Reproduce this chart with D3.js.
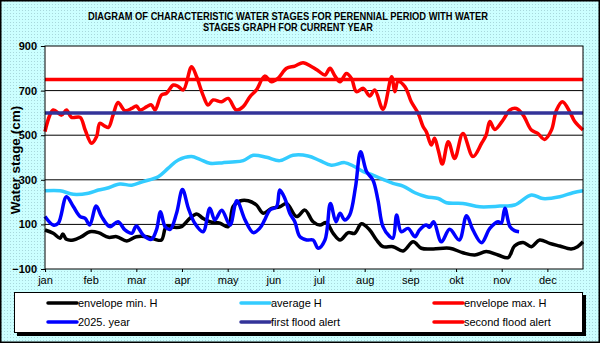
<!DOCTYPE html>
<html>
<head>
<meta charset="utf-8">
<script src="https://cdn.jsdelivr.net/npm/d3@7"></script>
<style>
  body { margin: 0; padding: 0; background: #fff; }
  svg { display: block; font-family: "Liberation Sans", Arial, sans-serif; }
</style>
</head>
<body>
<script>
// month labels, x values below are in months from 1 jan
var months = ["jan","feb","mar","apr","may","jun","jul","aug","sep","okt","nov","dec"];
var yTicks = [-100, 100, 300, 500, 700, 900];

var firstAlert = 600;
var secondAlert = 750;

var envelopeMax = [[0,516],[0.18,613],[0.36,590],[0.47,613],[0.58,580],[0.77,580],[0.88,523],[1.02,464],[1.13,494],
  [1.2,553],[1.31,541],[1.39,535],[1.49,590],[1.6,647],[1.75,610],[1.9,620],[2.0,631],[2.08,613],[2.23,628],
  [2.33,636],[2.41,613],[2.55,680],[2.66,688],[2.81,725],[2.92,718],[3.03,703],[3.21,807],[3.32,762],[3.46,680],
  [3.57,635],[3.68,658],[3.87,650],[4.01,665],[4.19,613],[4.34,628],[4.49,673],[4.63,703],[4.81,765],[4.96,740],
  [5.1,755],[5.29,800],[5.47,810],[5.65,825],[5.84,807],[5.98,789],[6.13,770],[6.24,800],[6.35,765],[6.46,740],
  [6.6,777],[6.71,755],[6.82,695],[6.97,710],[7.11,676],[7.22,703],[7.4,616],[7.59,762],[7.66,695],[7.73,740],
  [7.88,718],[8.02,650],[8.17,598],[8.28,538],[8.35,515],[8.46,456],[8.53,486],[8.61,434],[8.7,371],[8.83,471],
  [8.97,396],[9.15,508],[9.37,404],[9.56,464],[9.66,501],[9.74,561],[9.85,526],[10.03,568],[10.18,613],[10.32,620],
  [10.47,590],[10.65,523],[10.79,508],[10.94,481],[11.09,523],[11.2,613],[11.33,650],[11.49,605],[11.6,561],[11.78,523]];

var averageH = [[0,251],[0.33,251],[0.62,235],[0.95,240],[1.17,254],[1.35,262],[1.64,281],[1.9,276],[2.15,292],
  [2.48,314],[2.7,352],[2.92,389],[3.21,404],[3.39,392],[3.61,374],[3.9,377],[4.1,380],[4.34,386],[4.56,410],
  [4.85,401],[5.14,386],[5.43,410],[5.76,407],[6.02,386],[6.27,365],[6.56,377],[6.75,362],[6.97,337],[7.18,321],
  [7.4,302],[7.62,284],[7.84,272],[8.1,242],[8.35,224],[8.61,216],[8.79,197],[9.15,194],[9.52,179],[9.96,182],
  [10.28,187],[10.65,232],[10.9,216],[11.27,224],[11.56,242],[11.78,251]];

var envelopeMin = [[0,75],[0.18,60],[0.33,38],[0.39,57],[0.47,33],[0.62,30],[0.8,45],[0.98,67],[1.17,63],[1.39,42],
  [1.57,45],[1.79,26],[2.0,45],[2.23,45],[2.41,33],[2.55,30],[2.66,93],[2.81,87],[2.99,90],[3.17,127],[3.32,147],
  [3.46,127],[3.61,112],[3.83,105],[4.01,90],[4.12,180],[4.27,205],[4.45,206],[4.63,187],[4.78,150],[4.96,172],
  [5.14,179],[5.29,194],[5.51,135],[5.69,164],[5.87,112],[6.02,97],[6.16,108],[6.31,60],[6.46,30],[6.64,63],
  [6.78,60],[6.93,103],[7.11,75],[7.26,30],[7.4,0],[7.62,0],[7.84,-19],[8.06,22],[8.24,-7],[8.5,-10],[8.86,-7],
  [9.15,-27],[9.41,-37],[9.66,-22],[9.92,-37],[10.14,-49],[10.28,3],[10.47,19],[10.65,0],[10.83,30],[11.05,15],
  [11.27,3],[11.52,-10],[11.66,0],[11.78,22]];

var year2025 = [[0,135],[0.18,97],[0.29,105],[0.47,224],[0.62,180],[0.77,135],[0.88,127],[0.98,97],[1.12,183],
  [1.24,135],[1.42,90],[1.6,112],[1.75,75],[1.9,60],[2.0,93],[2.15,52],[2.33,33],[2.44,75],[2.53,157],[2.63,90],
  [2.74,78],[2.88,150],[3.01,257],[3.14,172],[3.28,105],[3.46,67],[3.61,172],[3.72,120],[3.87,164],[4.05,97],
  [4.2,206],[4.38,120],[4.56,63],[4.7,82],[4.81,120],[4.92,164],[5.07,179],[5.14,254],[5.25,217],[5.36,150],
  [5.47,112],[5.58,45],[5.73,30],[5.87,30],[5.98,-7],[6.13,30],[6.25,194],[6.37,112],[6.46,150],[6.56,120],
  [6.67,142],[6.8,269],[6.91,426],[7.04,337],[7.18,299],[7.29,209],[7.4,90],[7.55,45],[7.62,38],[7.7,142],
  [7.8,67],[7.95,82],[8.1,45],[8.2,75],[8.35,97],[8.42,87],[8.51,112],[8.68,22],[8.86,78],[9.07,30],[9.23,139],
  [9.37,75],[9.56,18],[9.74,82],[9.92,112],[9.99,105],[10.07,172],[10.18,90],[10.28,72],[10.38,67]];

var legendLabels = ["envelope min. H","average H","envelope max. H","2025. year","first flood alert","second flood alert"];
var legendColors = ["#000000","#33ccff","#ff0000","#0000ff","#333399","#ff0000"];

var W = 600, H = 343;
var margin = {top: 46, right: 17, bottom: 74, left: 45};
var width = W - margin.left - margin.right,
    height = H - margin.top - margin.bottom;

var svg = d3.select("body").append("svg")
    .attr("width", W)
    .attr("height", H);

// dotted light cyan background
var defs = svg.append("defs");
var pat = defs.append("pattern").attr("id", "dots")
    .attr("width", 3).attr("height", 3).attr("patternUnits", "userSpaceOnUse");
pat.append("rect").attr("width", 3).attr("height", 3).attr("fill", "#ccffff");
pat.append("rect").attr("x", 1).attr("y", 1).attr("width", 1).attr("height", 1).attr("fill", "#a8d8dc");

svg.append("rect")
    .attr("x", 0.75).attr("y", 0.75)
    .attr("width", W - 1.5).attr("height", H - 1.5)
    .attr("fill", "url(#dots)")
    .attr("stroke", "#000")
    .attr("stroke-width", 1.5);

// title
svg.append("text")
    .attr("x", 288).attr("y", 19.5)
    .attr("text-anchor", "middle")
    .attr("font-size", 10).attr("font-weight", "bold")
    .attr("textLength", 400).attr("lengthAdjust", "spacingAndGlyphs")
    .text("DIAGRAM OF CHARACTERISTIC WATER  STAGES FOR PERENNIAL  PERIOD  WITH WATER");
svg.append("text")
    .attr("x", 288).attr("y", 30.5)
    .attr("text-anchor", "middle")
    .attr("font-size", 10).attr("font-weight", "bold")
    .attr("textLength", 170).attr("lengthAdjust", "spacingAndGlyphs")
    .text("STAGES GRAPH FOR CURRENT  YEAR");

var g = svg.append("g")
    .attr("transform", "translate(" + margin.left + "," + margin.top + ")");

var xScale = d3.scaleLinear()
    .domain([0, 11.78])
    .range([0, width]);

var yScale = d3.scaleLinear()
    .domain([-100, 900])
    .range([height, 0]);

g.append("rect")
    .attr("width", width).attr("height", height)
    .attr("fill", "#fff");

// gridlines
g.selectAll(".grid")
    .data(yTicks.filter(function(d){ return d > -100 && d < 900; }))
    .enter()
    .append("line")
    .attr("x1", 0).attr("x2", width)
    .attr("y1", function(d){ return yScale(d); })
    .attr("y2", function(d){ return yScale(d); })
    .attr("stroke", "#000")
    .attr("stroke-width", 1);

var line = d3.line()
    .x(function(d){ return xScale(d[0]); })
    .y(function(d){ return yScale(d[1]); })
    .curve(d3.curveCatmullRom.alpha(0.5));

var series = [
  {data: envelopeMin, color: "#000000"},
  {data: averageH, color: "#33ccff"},
  {data: envelopeMax, color: "#ff0000"},
  {data: year2025, color: "#0000ff"}
];

g.selectAll(".series")
    .data(series)
    .enter()
    .append("path")
    .attr("d", function(d){ return line(d.data); })
    .attr("fill", "none")
    .attr("stroke", function(d){ return d.color; })
    .attr("stroke-width", 3.5)
    .attr("stroke-linejoin", "round");

// flood alert levels
g.selectAll(".alert")
    .data([{v: firstAlert, color: "#333399"}, {v: secondAlert, color: "#ff0000"}])
    .enter()
    .append("line")
    .attr("x1", 0).attr("x2", width)
    .attr("y1", function(d){ return yScale(d.v); })
    .attr("y2", function(d){ return yScale(d.v); })
    .attr("stroke", function(d){ return d.color; })
    .attr("stroke-width", 3.5);

g.append("rect")
    .attr("width", width).attr("height", height)
    .attr("fill", "none")
    .attr("stroke", "#000")
    .attr("stroke-width", 1);

// axes
var yAxis = g.append("g")
    .call(d3.axisLeft(yScale).tickValues(yTicks).tickSize(4).tickPadding(4));
yAxis.select(".domain").remove();
yAxis.selectAll("line").attr("stroke", "#000");
yAxis.selectAll("text")
    .attr("font-size", 11).attr("font-weight", "bold")
    .attr("font-family", "Liberation Sans, Arial, sans-serif")
    .attr("fill", "#000");

var xAxis = g.append("g")
    .attr("transform", "translate(0," + height + ")")
    .call(d3.axisBottom(xScale).tickValues(d3.range(12)).tickSize(3).tickPadding(4)
      .tickFormat(function(d){ return months[d]; }));
xAxis.select(".domain").remove();
xAxis.selectAll("line").attr("stroke", "#000");
xAxis.selectAll("text")
    .attr("font-size", 11)
    .attr("font-family", "Liberation Sans, Arial, sans-serif")
    .attr("fill", "#000");

svg.append("text")
    .attr("transform", "translate(20,160) rotate(-90)")
    .attr("text-anchor", "middle")
    .attr("font-size", 13.5).attr("font-weight", "bold")
    .text("Water stage (cm)");

// legend box with shadow
var legend = svg.append("g");
legend.append("rect")
    .attr("x", 17).attr("y", 295).attr("width", 569).attr("height", 41)
    .attr("fill", "#000");
legend.append("rect")
    .attr("x", 14.5).attr("y", 292.5).attr("width", 568).attr("height", 40)
    .attr("fill", "#fff").attr("stroke", "#000").attr("stroke-width", 1);

var colX = [48, 241, 434];
var rowY = [303, 322];

var items = legend.selectAll(".item")
    .data(legendLabels)
    .enter()
    .append("g")
    .attr("transform", function(d,i){
      return "translate(" + colX[i % 3] + "," + rowY[Math.floor(i / 3)] + ")";
    });

items.append("line")
    .attr("x1", 0).attr("x2", 29)
    .attr("stroke", function(d,i){ return legendColors[i]; })
    .attr("stroke-width", 3.5)
    .attr("stroke-linecap", "round");

items.append("text")
    .attr("x", 30).attr("y", 4)
    .attr("font-size", 11)
    .text(function(d){ return d; });
</script>
</body>
</html>
